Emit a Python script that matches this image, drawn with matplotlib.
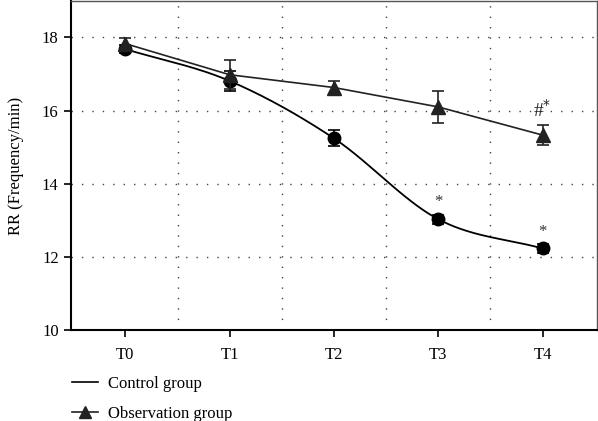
import numpy as np
import matplotlib
matplotlib.use("Agg")
import matplotlib.pyplot as plt

plt.rcParams['font.family'] = ['Liberation Serif', 'DejaVu Serif']

# data
timepoints = ["T0", "T1", "T2", "T3", "T4"]
control_mean = [17.68, 16.81, 15.24, 13.03, 12.23]
control_err = [0.10, 0.27, 0.22, 0.12, 0.12]
observ_mean = [17.83, 16.98, 16.63, 16.10, 15.33]
observ_err = [0.15, 0.40, 0.18, 0.44, 0.28]
control_marks = {3: "*", 4: "*"}
observ_marks = {4: "#$^{*}$"}


def catmull_rom(x, y, n=40):
    # smooth curve through the points (for the control line only)
    x = np.asarray(x, float)
    y = np.asarray(y, float)
    px = np.concatenate([[2 * x[0] - x[1]], x, [2 * x[-1] - x[-2]]])
    py = np.concatenate([[2 * y[0] - y[1]], y, [2 * y[-1] - y[-2]]])
    xs, ys = [], []
    t = np.linspace(0, 1, n)
    for i in range(1, len(px) - 2):
        for p, out in ((px, xs), (py, ys)):
            p0, p1, p2, p3 = p[i - 1], p[i], p[i + 1], p[i + 2]
            out.extend(0.5 * ((2 * p1) + (-p0 + p2) * t
                              + (2 * p0 - 5 * p1 + 4 * p2 - p3) * t ** 2
                              + (-p0 + 3 * p1 - 3 * p2 + p3) * t ** 3))
    return np.array(xs), np.array(ys)


fig = plt.figure(figsize=(5.98, 4.21), dpi=100)
ax = fig.add_axes([0.119, 0.216, 0.879, 0.782])

x = np.arange(len(timepoints))

# control group: smooth line + circles
cx, cy = catmull_rom(x, control_mean)
ax.plot(cx, cy, color='black', lw=1.3, zorder=3)
ax.errorbar(x, control_mean, yerr=control_err, fmt='o', color='black',
            ms=9, capsize=4, elinewidth=1.2, capthick=1.2, zorder=4)

# observation group: straight line + triangles
ax.errorbar(x, observ_mean, yerr=observ_err, fmt='^-', color='#222222',
            ms=10, lw=1.2, capsize=4, elinewidth=1.2, capthick=1.2, zorder=5)

for i, s in control_marks.items():
    ax.text(x[i], control_mean[i] + control_err[i] + 0.12, s,
            ha='center', va='bottom', fontsize=12, color='#333333')
for i, s in observ_marks.items():
    ax.text(x[i], observ_mean[i] + observ_err[i] + 0.12, s,
            ha='center', va='bottom', fontsize=14, color='#222222')

ax.set_xlim(-0.52, 4.52)
ax.set_ylim(10, 19)
ax.set_xticks(x)
ax.set_xticklabels(timepoints)
ax.set_yticks([10, 12, 14, 16, 18])
ax.set_xticks([0.5, 1.5, 2.5, 3.5], minor=True)
ax.tick_params(axis='x', which='minor', length=0)
ax.tick_params(axis='both', which='major', labelsize=12, length=5,
               width=1.2, direction='out')
ax.tick_params(axis='x', which='major', pad=7)
ax.tick_params(axis='y', which='major', pad=4)
ax.grid(True, which='major', axis='y', linestyle=(0, (1, 6.5)), color='#444444', lw=1.0)
ax.grid(True, which='minor', axis='x', linestyle=(0, (1, 6.5)), color='#444444', lw=1.0)
ax.set_axisbelow(True)

for side in ('left', 'bottom'):
    ax.spines[side].set_linewidth(1.5)
for side in ('top', 'right'):
    ax.spines[side].set_linewidth(1.0)
    ax.spines[side].set_color('#555555')

ax.set_ylabel("RR (Frequency/min)", fontsize=12, labelpad=13)

h1, = ax.plot([], [], color='black', lw=1.2)
h2, = ax.plot([], [], color='#222222', lw=1.2, marker='^', ms=8)
fig.legend([h1, h2], ["Control group", "Observation group"],
           loc='lower left', bbox_to_anchor=(0.095, -0.038), frameon=False,
           fontsize=12, handlelength=1.6, handletextpad=0.6, labelspacing=0.85)

fig.savefig("out.png", dpi=100)
